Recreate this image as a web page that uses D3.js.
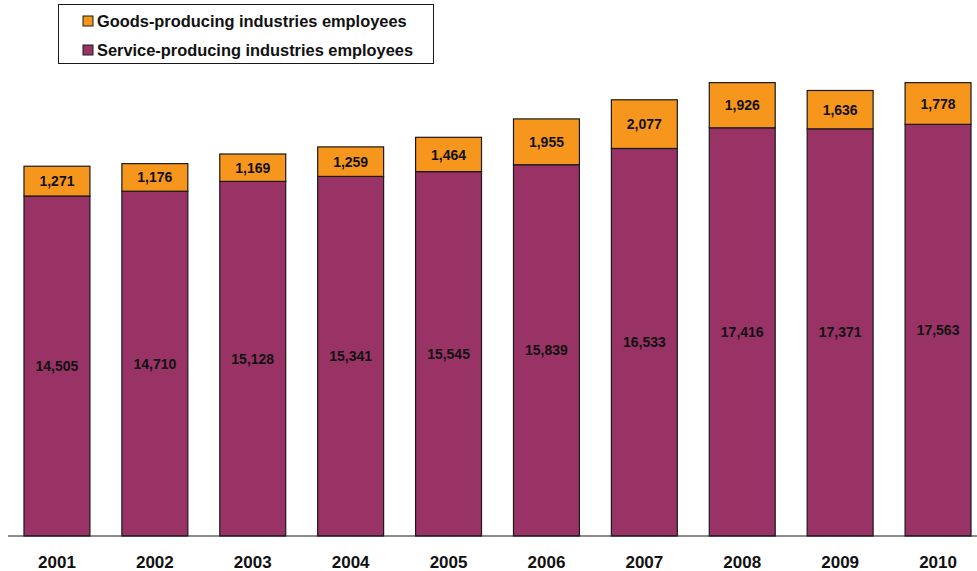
<!DOCTYPE html>
<html>
<head>
<meta charset="utf-8">
<script src="https://cdn.jsdelivr.net/npm/d3@7"></script>
<style>
  html, body { margin: 0; padding: 0; background: #fff; }
  svg { display: block; font-family: "Liberation Sans", Arial, sans-serif; }
</style>
</head>
<body>
<svg id="chart" width="977" height="571"></svg>
<script>
// Employees by sector, thousands
const years = ["2001", "2002", "2003", "2004", "2005", "2006", "2007", "2008", "2009", "2010"];
const serviceEmployees = [14505, 14710, 15128, 15341, 15545, 15839, 16533, 17416, 17371, 17563];
const goodsEmployees = [1271, 1176, 1169, 1259, 1464, 1955, 2077, 1926, 1636, 1778];
const seriesNames = ["Goods-producing industries employees", "Service-producing industries employees"];

const colors = { goods: "#f7961d", service: "#993366" };

const svg = d3.select("#chart");
const baseY = 536;

const x = d3.scaleBand()
  .domain(years)
  .range([8, 987])
  .paddingInner(32 / 98)
  .paddingOuter(16 / 98);

const y = d3.scaleLinear()
  .domain([0, 20000])
  .range([baseY, baseY - 20000 * 0.02344]);

const fmt = d3.format(",");

const rows = years.map((yr, i) => ({
  year: yr,
  service: serviceEmployees[i],
  goods: goodsEmployees[i]
}));

const stack = d3.stack().keys(["service", "goods"])(rows);

const groups = svg.append("g").selectAll("g")
  .data(stack)
  .join("g")
  .attr("fill", d => colors[d.key]);

groups.selectAll("rect")
  .data(d => d)
  .join("rect")
  .attr("x", d => x(d.data.year))
  .attr("width", x.bandwidth())
  .attr("y", d => y(d[1]))
  .attr("height", d => y(d[0]) - y(d[1]))
  .attr("stroke", "#1a1a1a")
  .attr("stroke-width", 1.2);

// value labels centred in each segment
stack.forEach(layer => {
  svg.append("g").selectAll("text")
    .data(layer)
    .join("text")
    .attr("x", d => x(d.data.year) + x.bandwidth() / 2)
    .attr("y", d => (y(d[0]) + y(d[1])) / 2)
    .attr("dy", "0.36em")
    .attr("text-anchor", "middle")
    .attr("font-size", 14)
    .attr("font-weight", "bold")
    .attr("fill", "#111")
    .text(d => fmt(d.data[layer.key]));
});

// category axis
svg.append("line")
  .attr("x1", 8).attr("x2", 977)
  .attr("y1", baseY).attr("y2", baseY)
  .attr("stroke", "#1a1a1a").attr("stroke-width", 1.2);

const xAxis = svg.append("g")
  .attr("transform", `translate(0,${baseY})`)
  .call(d3.axisBottom(x).tickSize(0).tickPadding(20));
xAxis.select(".domain").remove();
xAxis.selectAll("text")
  .attr("font-family", "'Liberation Sans', Arial, sans-serif")
  .attr("font-size", 17)
  .attr("font-weight", "bold")
  .attr("fill", "#111");

// legend
const legend = svg.append("g");
legend.append("rect")
  .attr("x", 58.5).attr("y", 4.5)
  .attr("width", 375).attr("height", 59)
  .attr("fill", "#fff").attr("stroke", "#1a1a1a").attr("stroke-width", 1);

const legendItems = [
  { name: seriesNames[0], color: colors.goods, cy: 21 },
  { name: seriesNames[1], color: colors.service, cy: 50 }
];
legendItems.forEach(item => {
  legend.append("rect")
    .attr("x", 83).attr("y", item.cy - 5)
    .attr("width", 10).attr("height", 10)
    .attr("fill", item.color)
    .attr("stroke", "#1a1a1a").attr("stroke-width", 1);
  legend.append("text")
    .attr("x", 97).attr("y", item.cy)
    .attr("dy", "0.36em")
    .attr("font-size", 16.4)
    .attr("font-weight", "bold")
    .attr("fill", "#111")
    .text(item.name);
});
</script>
</body>
</html>
